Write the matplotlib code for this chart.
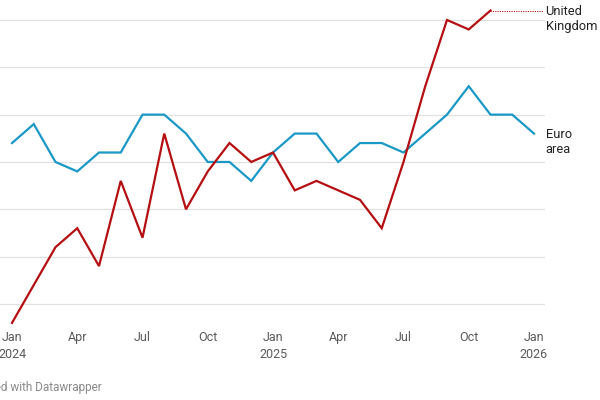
import matplotlib
matplotlib.use("Agg")
import matplotlib.pyplot as plt
import matplotlib.transforms as mtransforms

plt.rcParams['font.family'] = ['Roboto', 'DejaVu Sans']

# Monthly data, Jan 2024 onward (youth unemployment rate, %)
months = ["Jan 2024", "Feb", "Mar", "Apr", "May", "Jun", "Jul", "Aug", "Sep", "Oct", "Nov", "Dec",
          "Jan 2025", "Feb", "Mar", "Apr", "May", "Jun", "Jul", "Aug", "Sep", "Oct", "Nov", "Dec",
          "Jan 2026"]
euro_area = [14.7, 14.9, 14.5, 14.4, 14.6, 14.6, 15.0, 15.0, 14.8, 14.5, 14.5, 14.3,
             14.6, 14.8, 14.8, 14.5, 14.7, 14.7, 14.6, 14.8, 15.0, 15.3, 15.0, 15.0, 14.8]
united_kingdom = [12.8, 13.2, 13.6, 13.8, 13.4, 14.3, 13.7, 14.8, 14.0, 14.4, 14.7, 14.5,
                  14.6, 14.2, 14.3, 14.2, 14.1, 13.8, 14.5, 15.3, 16.0, 15.9, 16.1]
grid_values = [13.0, 13.5, 14.0, 14.5, 15.0, 15.5, 16.0]
tick_positions = [0, 3, 6, 9, 12, 15, 18, 21, 24]
tick_labels = ["Jan\n2024", "Apr", "Jul", "Oct", "Jan\n2025", "Apr", "Jul", "Oct", "Jan\n2026"]

RED = "#b50f12"
BLUE = "#1a98c6"

W, H = 600, 400
fig = plt.figure(figsize=(6, 4), dpi=100)
ax = fig.add_axes([0, 1 - 330 / H, 545 / W, 330 / H])
ax.set_xlim(-0.552, 24.506)
ax.set_ylim(12.725, 16.211)

for g in grid_values:
    ax.axhline(g, color="#e1e1e1", lw=0.9, zorder=0)

ax.plot(range(len(euro_area)), euro_area, color=BLUE, lw=1.6, solid_joinstyle="miter", zorder=3)
ax.plot(range(len(united_kingdom)), united_kingdom, color=RED, lw=1.6, solid_joinstyle="miter", zorder=4)

for s in ax.spines.values():
    s.set_visible(False)
ax.set_yticks([])
ax.set_xticks(tick_positions)
ax.set_xticklabels(tick_labels, fontsize=9, color="#5a5a5a", linespacing=1.35)
ax.tick_params(axis="x", length=0, pad=1)

# connector and labels
last_i = len(united_kingdom) - 1
ax.plot([last_i, 24.4], [united_kingdom[-1]] * 2, color=RED, lw=0.7, ls=(0, (1.2, 1.2)),
        clip_on=False, zorder=4)
off = mtransforms.ScaledTranslation(0, 4 / 72, fig.dpi_scale_trans)
ax.text(24.53, united_kingdom[-1], "United\nKingdom", fontsize=9.3, color="#222222",
        va="top", ha="left", linespacing=1.18, clip_on=False,
        transform=ax.transData + off)
ax.text(24.53, euro_area[-1], "Euro\narea", fontsize=9.3, color="#222222",
        va="top", ha="left", linespacing=1.18, clip_on=False,
        transform=ax.transData + off)

fig.text(102 / W, 1 - 387 / H, "Chart: Created with Datawrapper", fontsize=8.5, color="#8a8a8a",
         ha="right", va="center")

fig.savefig("out.png", dpi=100)
